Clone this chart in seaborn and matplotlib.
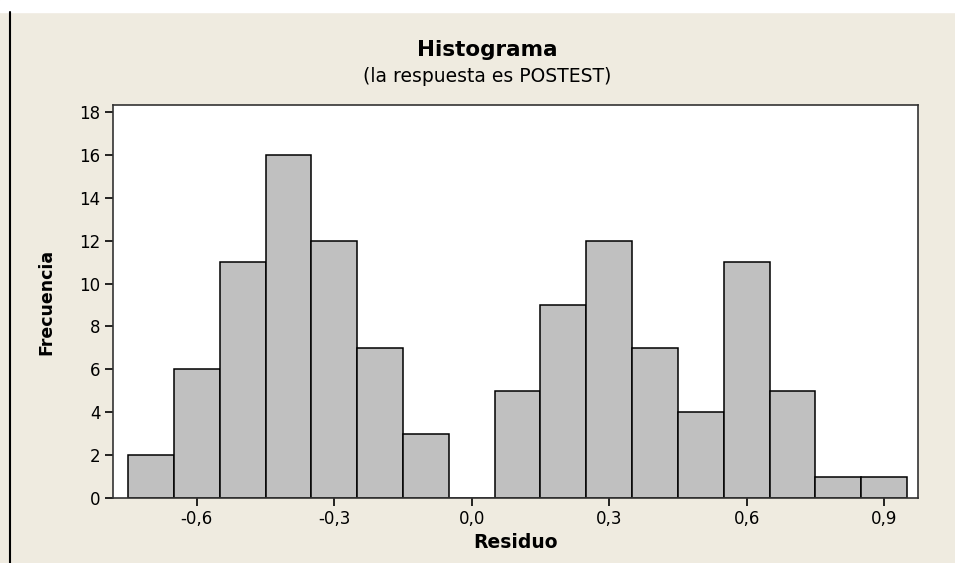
import numpy as np
import seaborn as sns
from matplotlib import pyplot as plt
from matplotlib.lines import Line2D

# bin centres of the residuals and the count in each bin
centros = [-0.7, -0.6, -0.5, -0.4, -0.3, -0.2, -0.1, 0.0, 0.1,
           0.2, 0.3, 0.4, 0.5, 0.6, 0.7, 0.8, 0.9]
frecuencias = [2, 6, 11, 16, 12, 7, 3, 0, 5, 9, 12, 7, 4, 11, 5, 1, 1]
xticks = [-0.6, -0.3, 0.0, 0.3, 0.6, 0.9]
yticks = [0, 2, 4, 6, 8, 10, 12, 14, 16, 18]

sns.set_style("ticks")
plt.rcParams['font.family'] = ['DejaVu Sans']
plt.rcParams['text.color'] = 'black'
plt.rcParams['axes.labelcolor'] = 'black'

bg = '#EFEBE0'
fig = plt.figure(figsize=(9.55, 5.63), dpi=100)
fig.patch.set_facecolor(bg)
ax = fig.add_axes([113 / 955, 1 - 498 / 563, (918 - 113) / 955, (498 - 105) / 563])
ax.set_facecolor('white')

ancho = 0.1
bordes = np.append(np.array(centros) - ancho / 2, centros[-1] + ancho / 2).tolist()
sns.histplot(x=centros, weights=frecuencias, bins=bordes, ax=ax,
             color='#C0C0C0', edgecolor='black', linewidth=1.1, alpha=1)

ax.set_xlim(-0.783, 0.974)
ax.set_ylim(0, 18.33)
ax.set_xticks(xticks)
ax.set_xticklabels([f"{t:.1f}".replace('.', ',') for t in xticks])
ax.set_yticks(yticks)
ax.tick_params(direction='out', length=6, width=1.2, colors='black',
               labelsize=12, pad=3)
for s in ax.spines.values():
    s.set_visible(True)
    s.set_color('#333333')
    s.set_linewidth(1.2)

ax.set_xlabel('Residuo', fontsize=13.5, fontweight='bold', labelpad=3)
ax.set_ylabel('Frecuencia', fontsize=12.5, fontweight='bold', labelpad=17)

fig.text(487 / 955, 1 - 50 / 563, 'Histograma', ha='center', va='center',
         fontsize=15.5, fontweight='bold')
fig.text(487 / 955, 1 - 77 / 563, '(la respuesta es POSTEST)', ha='center',
         va='center', fontsize=13.5)

# white strip at the top and black rule on the left, as in the screenshot
fig.patches.append(plt.Rectangle((0, 1 - 12 / 563), 1, 12 / 563,
                                 transform=fig.transFigure, color='white', zorder=0))
fig.lines.append(Line2D([10 / 955, 10 / 955], [0, 1 - 12 / 563],
                        transform=fig.transFigure, color='black', linewidth=1.5))

fig.savefig('out.png', dpi=100, facecolor=bg)
